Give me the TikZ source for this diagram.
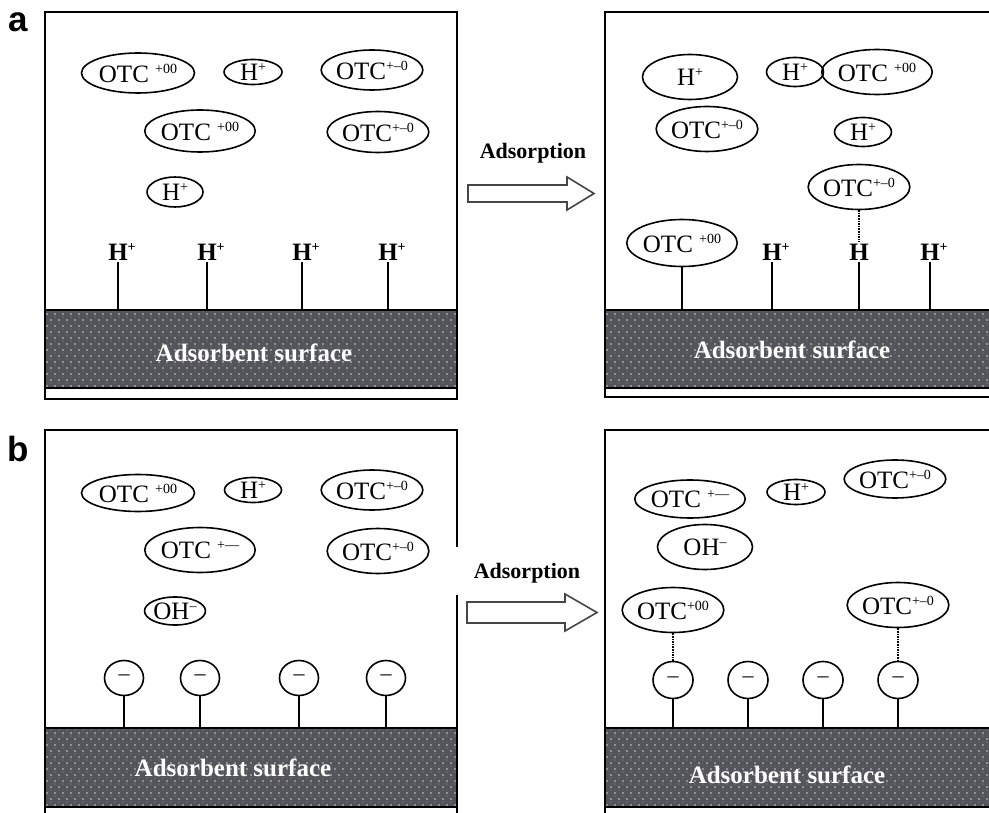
\documentclass[tikz,border=0pt]{standalone}
\usepackage{fontspec}
\setmainfont{Liberation Serif}
\newfontfamily\panelfont{Liberation Sans}
\usetikzlibrary{shapes.geometric}
\definecolor{surfgray}{RGB}{84,85,91}
\definecolor{dotgray}{RGB}{205,207,212}
\definecolor{dotdim}{RGB}{135,137,143}
\definecolor{arrowgray}{RGB}{70,70,70}
% small raised charge sign / charge pattern
\newcommand\ionsup[1]{\raisebox{9pt}{\fontsize{14}{14}\selectfont #1}}
\begin{document}
\begin{tikzpicture}[x=1pt,y=-1pt,
  frame/.style={line width=1.8pt},
  ion/.style 2 args={draw, ellipse, line width=1.6pt, inner sep=0pt,
    minimum width=#1, minimum height=#2, font=\fontsize{25}{28}\selectfont},
  charge/.style={draw, ellipse, line width=1.6pt, inner sep=0pt,
    minimum width=39, minimum height=35, font=\fontsize{22}{24}\selectfont},
  site/.style={inner sep=1.5pt, font=\bfseries\fontsize{25}{28}\selectfont},
  stem/.style={line width=1.6pt},
  link/.style={densely dotted, line width=1.6pt},
  surface/.style 2 args={draw, line width=1.6pt, fill=surfgray, inner sep=0pt,
    minimum width=#1, minimum height=#2,
    path picture={
      \foreach \j in {0,...,13} {
        \foreach \i in {0,...,55} {
          \fill[dotgray] ([xshift={\i*8pt+mod(\j,2)*4pt+2pt}, yshift={\j*6pt+2pt}]path picture bounding box.south west) circle (0.95pt);
          \fill[dotdim] ([xshift={\i*8pt+mod(\j,2)*4pt+6pt}, yshift={\j*6pt+5pt}]path picture bounding box.south west) circle (0.7pt);
        }
      }
    }},
  surftext/.style={text=white, font=\bfseries\fontsize{25}{28}\selectfont},
  steptext/.style={font=\bfseries\fontsize{22}{24}\selectfont},
  bigarrow/.style={draw=arrowgray, fill=white, line width=1.6pt, line join=miter},
  panellabel/.style={font=\panelfont\bfseries\fontsize{35}{36}\selectfont}]
\useasboundingbox (0,0) rectangle (989,813);
\clip (0,0) rectangle (989,813);

% ---------------- panel a, before ----------------
\draw[frame] (45,12) rectangle (457,399);
\node[surface={412}{78}] (sA) at (251,349) {};
\node[surftext] (tA) at (254,353) {Adsorbent surface};
\node[ion={113}{40}] (a1) at (138,73) {OTC \ionsup{+00}};
\node[ion={58}{25}] (a2) at (253,72) {H\ionsup{+}};
\node[ion={97}{40}] (a3) at (372,70) {OTC\ionsup{+\textendash0}};
\node[ion={96}{42}] (a4) at (200,131) {OTC \ionsup{+00}};
\node[ion={97}{41}] (a5) at (378,132) {OTC\ionsup{+\textendash0}};
\node[ion={56}{30}] (a6) at (175,192) {H\ionsup{+}};
\foreach \n/\x in {1/118,2/207,3/302,4/388} {
  \node[site] (hA\n) at (\x,252) {H\rlap{\ionsup{+}}};
  \draw[stem] (hA\n.south) -- (hA\n.south |- sA.north);
}

% ---------------- panel a, after ----------------
\draw[frame] (989,12) -- (605,12) -- (605,397) -- (989,397);
\node[surface={392}{78}] (sB) at (801,349) {};
\node[surftext] (tB) at (792,350) {Adsorbent surface};
\node[ion={95}{45}] (b1) at (690,77) {H\ionsup{+}};
\node[ion={57}{29}] (b2) at (795,72) {H\ionsup{+}};
\node[ion={95}{45}] (b3) at (877,72) {OTC \ionsup{+00}};
\node[ion={96}{45}] (b4) at (707,129) {OTC\ionsup{+\textendash0}};
\node[ion={57}{29}] (b5) at (863,132) {H\ionsup{+}};
\node[ion={96}{45}] (b6) at (859,187) {OTC\ionsup{+\textendash0}};
\node[ion={95}{47}] (b7) at (682,243) {OTC \ionsup{+00}};
\draw[stem] (b7.south) -- (b7.south |- sB.north);
\node[site] (hB1) at (772,252) {H\rlap{\ionsup{+}}};
\node[site] (hB2) at (859,252) {H};
\node[site] (hB3) at (930,252) {H\rlap{\ionsup{+}}};
\foreach \n in {1,2,3} {
  \draw[stem] (hB\n.south) -- (hB\n.south |- sB.north);
}
\draw[link] (b6.south) -- (hB2.north);

% ---------------- arrow a ----------------
\node[steptext] (stepA) at (533,153) {Adsorption};
\draw[bigarrow] (468,185) -- (567,185) -- (567,177) -- (594,193.5)
  -- (567,210) -- (567,202) -- (468,202) -- cycle;

% ---------------- panel b, before ----------------
\draw[frame] (457,547) -- (457,430) -- (45,430) -- (45,813);
\draw[frame] (457,595) -- (457,813);
\node[surface={412}{79}] (sC) at (251,767.5) {};
\node[surftext] (tC) at (233,768) {Adsorbent surface};
\node[ion={113}{37}] (c1) at (138,493) {OTC \ionsup{+00}};
\node[ion={57}{25}] (c2) at (253,490) {H\ionsup{+}};
\node[ion={97}{40}] (c3) at (372,490) {OTC\ionsup{+\textendash0}};
\node[ion={96}{45}] (c4) at (200,550) {OTC \ionsup{+\textendash\textendash}};
\node[ion={97}{45}] (c5) at (378,551) {OTC\ionsup{+\textendash0}};
\node[ion={56}{28}] (c6) at (175,611) {OH\ionsup{\textendash}};
\foreach \n/\x in {1/124,2/200,3/299,4/386} {
  \node[charge] (mC\n) at (\x,678) {\textendash};
  \draw[stem] (mC\n.south) -- (mC\n.south |- sC.north);
}

% ---------------- panel b, after ----------------
\draw[frame] (989,430) -- (605,430) -- (605,813);
\node[surface={392}{79}] (sD) at (801,767.5) {};
\node[surftext] (tD) at (787,775) {Adsorbent surface};
\node[ion={95}{38}] (d1) at (690,499) {OTC \ionsup{+\textendash\textendash}};
\node[ion={58}{25}] (d2) at (796,492) {H\ionsup{+}};
\node[ion={95}{38}] (d3) at (895,479) {OTC\ionsup{+\textendash0}};
\node[ion={95}{45}] (d4) at (705,547) {OH\ionsup{\textendash}};
\node[ion={93}{45}] (d5) at (673,610) {OTC\ionsup{+00}};
\node[ion={95}{45}] (d6) at (898,605) {OTC\ionsup{+\textendash0}};
\foreach \n/\x in {1/673,2/748,3/823,4/898} {
  \node[charge, minimum width=40, minimum height=37] (mD\n) at (\x,680) {\textendash};
  \draw[stem] (mD\n.south) -- (mD\n.south |- sD.north);
}
\draw[link] (d5.south) -- (mD1.north);
\draw[link] (d6.south) -- (mD4.north);

% ---------------- arrow b ----------------
\node[steptext] (stepB) at (527,573) {Adsorption};
\draw[bigarrow] (467,602) -- (565,602) -- (565,594) -- (597,612.5)
  -- (565,631) -- (565,623) -- (467,623) -- cycle;

% ---------------- panel letters ----------------
\node[panellabel] (la) at (18,22) {a};
\node[panellabel] (lb) at (18,449) {b};
\end{tikzpicture}
\end{document}
